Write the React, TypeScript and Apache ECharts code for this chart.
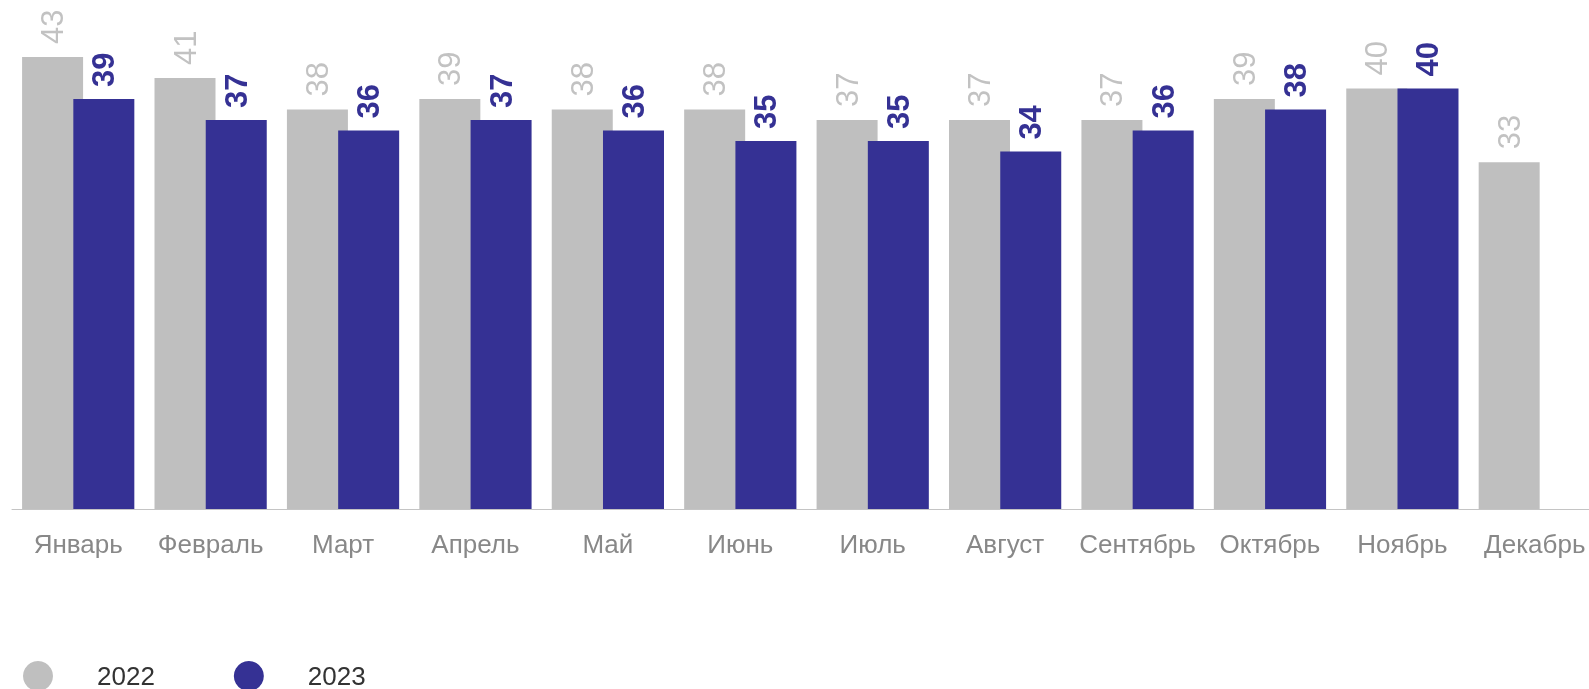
import React, { useEffect, useRef } from "react";
import * as echarts from "echarts";

const months = ["Январь", "Февраль", "Март", "Апрель", "Май", "Июнь", "Июль", "Август", "Сентябрь", "Октябрь", "Ноябрь", "Декабрь"];
const values2022 = [43, 41, 38, 39, 38, 38, 37, 37, 37, 39, 40, 33];
const values2023: (number | null)[] = [39, 37, 36, 37, 36, 35, 35, 34, 36, 38, 40, null];

export default function App() {
  const ref = useRef<HTMLDivElement>(null);
  useEffect(() => {
    if (!ref.current) return;
    const chart = echarts.init(ref.current, null, { renderer: "svg" });
    const font = "Liberation Sans, Arial, sans-serif";
    chart.setOption({
      animation: false,
      grid: { left: 12, width: 1589, top: 36, bottom: 180, containLabel: false, outerBoundsMode: "none" },
      legend: {
        left: 23,
        top: 661,
        padding: 0,
        icon: "circle",
        itemWidth: 30,
        itemHeight: 30,
        itemGap: 79,
        textStyle: { fontSize: 26, color: "#333", fontFamily: font, padding: [0, 0, 0, 39] },
        data: ["2022", "2023"],
      },
      xAxis: {
        type: "category",
        data: months,
        axisLine: { lineStyle: { color: "#c4c4c4", width: 1 } },
        axisTick: { show: false },
        axisLabel: { color: "#888", fontSize: 26, fontFamily: font, margin: 22, interval: 0 },
      },
      yAxis: { type: "value", min: 0, max: 45, show: false, splitLine: { show: false } },
      series: [
        {
          name: "2022",
          type: "bar",
          data: values2022,
          barWidth: 61,
          barGap: "-16%",
          itemStyle: { color: "#bfbfbf" },
          label: {
            show: true,
            position: "top",
            distance: 13,
            rotate: 90,
            align: "left",
            verticalAlign: "middle",
            fontSize: 31,
            fontFamily: font,
            color: "#c2c2c2",
          },
        },
        {
          name: "2023",
          type: "bar",
          data: values2023,
          barWidth: 61,
          itemStyle: { color: "#353194" },
          label: {
            show: true,
            position: "top",
            distance: 12,
            rotate: 90,
            align: "left",
            verticalAlign: "middle",
            fontSize: 31,
            fontWeight: "bold",
            fontFamily: font,
            color: "#353194",
          },
        },
      ],
    });
    return () => chart.dispose();
  }, []);
  return <div ref={ref} style={{ position: "fixed", left: 0, top: 0, width: 1589, height: 689 }} />;
}
